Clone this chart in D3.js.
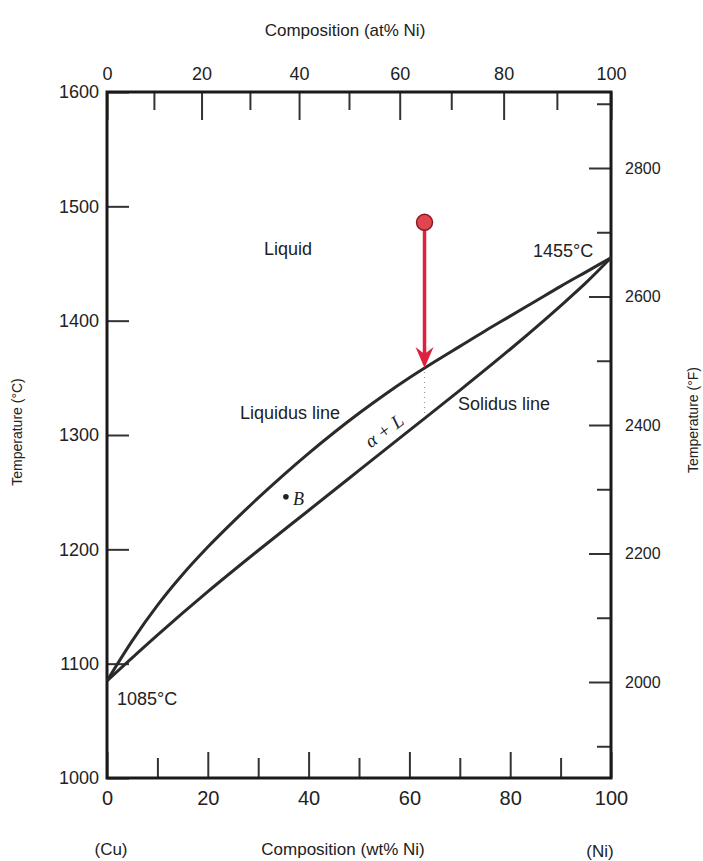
<!DOCTYPE html>
<html>
<head>
<meta charset="utf-8">
<script src="https://cdn.jsdelivr.net/npm/d3@7"></script>
<style>
  body { margin: 0; background: #fff; }
  svg text { font-family: "Liberation Sans", Arial, sans-serif; fill: #222; }
  .tick line { stroke: #333; stroke-width: 2; }
  .tick text { font-size: 17px; }
</style>
</head>
<body>
<div id="chart"></div>
<script>
// data
const liquidusWt = [0, 5, 10, 15, 20, 25, 30, 35, 40, 45, 50, 55, 60, 65, 70, 75, 80, 85, 90, 95, 100];
const liquidusT  = [1085, 1120, 1151, 1178, 1202, 1224, 1245, 1265, 1284, 1302, 1319, 1335, 1350, 1364, 1377.5, 1391, 1404, 1417, 1430, 1442.5, 1455];
const solidusWt = [0, 10, 20, 30, 40, 50, 60, 70, 80, 90, 95, 100];
const solidusT  = [1085, 1125, 1163, 1199, 1234, 1269, 1304, 1339, 1375, 1413, 1433, 1455];

// cooling path (red arrow) and point B
const coolWt = 63;
const coolStartT = 1486;
const coolEndT = 1358.5; // liquidus
const coolSolidT = 1318; // solidus
const pointB = [35.5, 1246];

// tick values
const wtMajor = [0, 20, 40, 60, 80, 100];
const wtMinor = [10, 30, 50, 70, 90];
const atMajor = [0, 20, 40, 60, 80, 100];
const atMinor = [10, 30, 50, 70, 90];
const tempCTicks = [1000, 1100, 1200, 1300, 1400, 1500, 1600];
const tempFMajor = [2000, 2200, 2400, 2600, 2800];
const tempFMinor = [1900, 2100, 2300, 2500, 2700, 2900];

const svgWidth = 703;
const svgHeight = 861;
const plot = { left: 107, right: 611, top: 92, bottom: 778 };

const svg = d3.select('#chart')
  .append('svg')
  .attr('width', svgWidth)
  .attr('height', svgHeight);

// scales
const x = d3.scaleLinear().domain([0, 100]).range([plot.left, plot.right]);
const y = d3.scaleLinear().domain([1000, 1600]).range([plot.bottom, plot.top]);
const yF = d3.scaleLinear().domain([2000, 2800]).range([682, 168]);

// at% -> wt% for Cu-Ni
const atToWt = a => 100 * a * 58.69 / (a * 58.69 + (100 - a) * 63.55);
const atAll = d3.range(0, 101, 10);
const xAt = d3.scaleLinear().domain(atAll).range(atAll.map(a => x(atToWt(a))));

const fmt = d3.format('d');

// axes
function addAxis(axis, transform, size) {
  const g = svg.append('g').attr('transform', transform).call(axis);
  g.select('.domain').remove();
  if (size) g.selectAll('text').style('font-size', size + 'px');
  return g;
}

addAxis(d3.axisTop(xAt).tickValues(atMinor).tickSize(-18).tickFormat(''), `translate(0,${plot.top})`);
addAxis(d3.axisTop(xAt).tickValues(atMajor).tickSize(-28).tickPadding(12).tickFormat(fmt), `translate(0,${plot.top})`, 18);

addAxis(d3.axisBottom(x).tickValues(wtMinor).tickSize(-20).tickFormat(''), `translate(0,${plot.bottom})`);
addAxis(d3.axisBottom(x).tickValues(wtMajor).tickSize(-26).tickPadding(13).tickFormat(fmt), `translate(0,${plot.bottom})`, 20);

addAxis(d3.axisLeft(y).tickValues(tempCTicks).tickSize(-22).tickPadding(8).tickFormat(fmt), `translate(${plot.left},0)`, 18);

addAxis(d3.axisRight(yF).tickValues(tempFMinor).tickSize(-14).tickFormat(''), `translate(${plot.right},0)`);
addAxis(d3.axisRight(yF).tickValues(tempFMajor).tickSize(-22).tickPadding(14).tickFormat(fmt), `translate(${plot.right},0)`, 16);

// frame
svg.append('rect')
  .attr('x', plot.left).attr('y', plot.top)
  .attr('width', plot.right - plot.left).attr('height', plot.bottom - plot.top)
  .attr('fill', 'none').attr('stroke', '#1a1a1a').attr('stroke-width', 3);

// liquidus / solidus
const line = d3.line().x(d => x(d[0])).y(d => y(d[1])).curve(d3.curveMonotoneX);
const liquidus = liquidusWt.map((w, i) => [w, liquidusT[i]]);
const solidus = solidusWt.map((w, i) => [w, solidusT[i]]);

svg.selectAll('path.phase')
  .data([liquidus, solidus])
  .enter()
  .append('path')
  .attr('class', 'phase')
  .attr('d', line)
  .attr('fill', 'none')
  .attr('stroke', '#2a2a2a')
  .attr('stroke-width', 3);

// dotted tie line under the arrow
svg.append('line')
  .attr('x1', x(coolWt)).attr('x2', x(coolWt))
  .attr('y1', y(coolEndT) + 4).attr('y2', y(coolSolidT))
  .attr('stroke', '#999').attr('stroke-width', 1.2).attr('stroke-dasharray', '1,4');

// red arrow
const red = '#e0203f';
const ax = x(coolWt), ay0 = y(coolStartT), ay1 = y(coolEndT);
svg.append('line')
  .attr('x1', ax).attr('x2', ax)
  .attr('y1', ay0).attr('y2', ay1 - 12)
  .attr('stroke', red).attr('stroke-width', 3.5);
svg.append('path')
  .attr('d', `M${ax},${ay1} L${ax - 9},${ay1 - 21} L${ax},${ay1 - 14} L${ax + 9},${ay1 - 21} Z`)
  .attr('fill', red);
svg.append('circle')
  .attr('cx', ax).attr('cy', ay0).attr('r', 8)
  .attr('fill', '#e04550').attr('stroke', '#8a1a22').attr('stroke-width', 1.5);

// point B
svg.append('circle')
  .attr('cx', x(pointB[0])).attr('cy', y(pointB[1]))
  .attr('r', 2.8).attr('fill', '#222');
svg.append('text')
  .attr('x', x(pointB[0]) + 7).attr('y', y(pointB[1]) + 8)
  .style('font-family', '"Liberation Serif", serif').style('font-style', 'italic')
  .style('font-size', '18px')
  .text('B');

// region labels
const labels = [
  { t: 'Liquid', x: 288, y: 255, size: 18, anchor: 'middle' },
  { t: '1455°C', x: 533, y: 257, size: 18, anchor: 'start' },
  { t: '1085°C', x: 117, y: 705, size: 18, anchor: 'start' },
  { t: 'Liquidus line', x: 240, y: 419, size: 18, anchor: 'start' },
  { t: 'Solidus line', x: 458, y: 410, size: 18, anchor: 'start' }
];
svg.selectAll('text.lab')
  .data(labels)
  .enter()
  .append('text')
  .attr('class', 'lab')
  .attr('x', d => d.x).attr('y', d => d.y)
  .attr('text-anchor', d => d.anchor)
  .style('font-size', d => d.size + 'px')
  .text(d => d.t);

svg.append('text')
  .attr('transform', 'translate(388,436) rotate(-36)')
  .attr('text-anchor', 'middle')
  .style('font-family', '"Liberation Serif", serif').style('font-style', 'italic')
  .style('font-size', '19px')
  .text('α + L');

// axis titles
svg.append('text')
  .attr('x', 345).attr('y', 36).attr('text-anchor', 'middle')
  .style('font-size', '17px')
  .text('Composition (at% Ni)');

svg.append('text')
  .attr('x', 343).attr('y', 855).attr('text-anchor', 'middle')
  .style('font-size', '17px')
  .text('Composition (wt% Ni)');
svg.append('text')
  .attr('x', 111).attr('y', 855).attr('text-anchor', 'middle')
  .style('font-size', '17px')
  .text('(Cu)');
svg.append('text')
  .attr('x', 600).attr('y', 857).attr('text-anchor', 'middle')
  .style('font-size', '17px')
  .text('(Ni)');

svg.append('text')
  .attr('transform', 'translate(22,432) rotate(-90)')
  .attr('text-anchor', 'middle')
  .style('font-size', '14px')
  .text('Temperature (°C)');
svg.append('text')
  .attr('transform', 'translate(698,420) rotate(-90)')
  .attr('text-anchor', 'middle')
  .style('font-size', '14px')
  .text('Temperature (°F)');
</script>
</body>
</html>
